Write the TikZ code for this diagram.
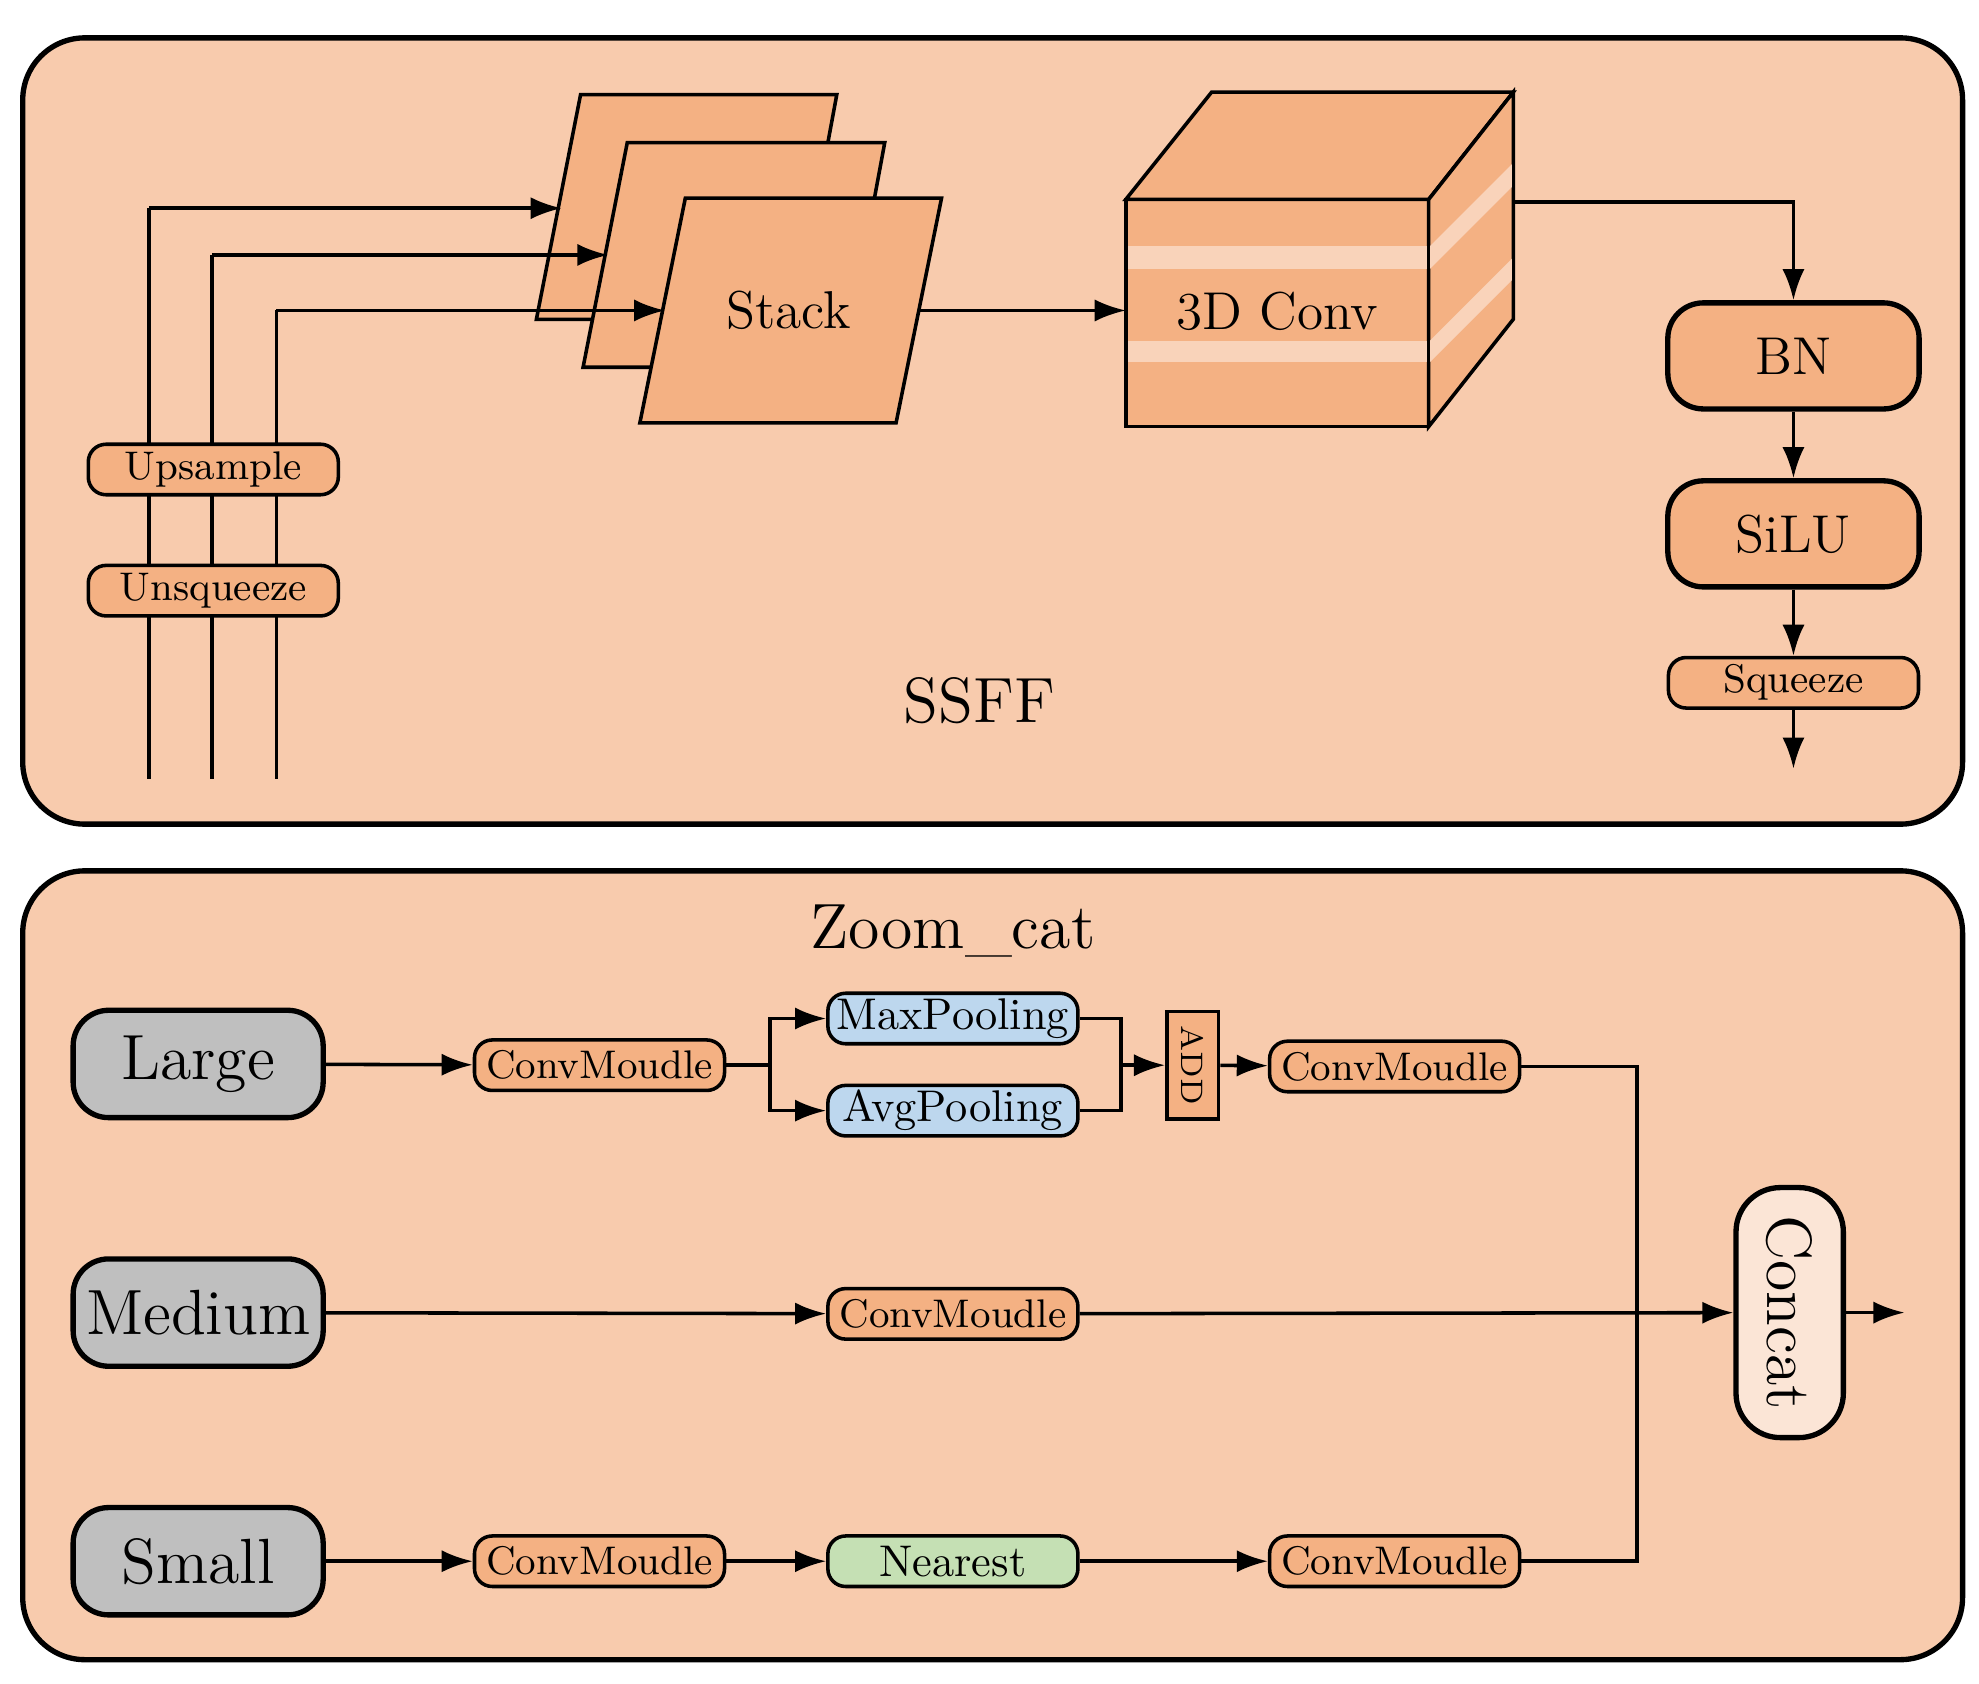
\documentclass[tikz,border=0pt]{standalone}
\usetikzlibrary{arrows.meta,backgrounds}
\usepackage{xcolor}
\definecolor{panel}{HTML}{F8CBAD}
\definecolor{block}{HTML}{F4B183}
\definecolor{stripe}{HTML}{F9D3BA}
\definecolor{pool}{HTML}{BDD7EE}
\definecolor{near}{HTML}{C5E0B4}
\definecolor{grayin}{HTML}{BFBFBF}
\definecolor{cat}{HTML}{FBE5D6}
\tikzset{
  arr/.style={-{Latex[length=7pt,width=5pt]},thick},
  ln/.style={thick},
  small/.style={draw,thick,fill=block,rounded corners=4pt,minimum width=1.98cm,minimum height=0.4cm,inner sep=0pt,font=\small},
  big/.style={draw,very thick,fill=block,rounded corners=8pt,minimum width=1.99cm,minimum height=0.84cm,inner sep=0pt,font=\large},
  inp/.style={draw,very thick,fill=grayin,rounded corners=8pt,minimum width=1.98cm,minimum height=0.85cm,inner sep=0pt,font=\Large},
}
\begin{document}
\begin{tikzpicture}[x=0.01cm,y=-0.01cm]
	\useasboundingbox (0,0) rectangle (1568,1334);
	%panels
	\draw[very thick,fill=panel,rounded corners=14pt] (18,30) rectangle (1555,653);
	\draw[very thick,fill=panel,rounded corners=14pt] (18,690) rectangle (1555,1315);
	%SSFF inputs
	\coordinate (i1) at (118,617);
	\coordinate (i2) at (168,617);
	\coordinate (i3) at (219,617);
	\draw[ln] (i1) -- (118,165);
	\draw[ln] (i2) -- (168,202);
	\draw[ln] (i3) -- (219,246);
	\node[small] (up) at (169,372) {Upsample};
	\node[small] (unsq) at (169,468) {Unsqueeze};
	%stack
	\draw[thick,fill=block] (460,75) -- (663,75) -- (630,253) -- (425,253) -- cycle;
	\draw[thick,fill=block] (497,113) -- (701,113) -- (668,291) -- (462,291) -- cycle;
	\draw[thick,fill=block] (543,157) -- (746,157) -- (710,335) -- (507,335) -- cycle;
	\node[font=\large] (stack) at (625,246) {Stack};
	\coordinate (s1) at (445,165);
	\coordinate (s2) at (482,202);
	\coordinate (s3) at (527,246);
	\draw[arr] (118,165) -- (s1);
	\draw[arr] (168,202) -- (s2);
	\draw[arr] (219,246) -- (s3);
	%cube
	\draw[thick,fill=block] (892,158) rectangle (1132,338);
	\draw[thick,fill=block] (892,158) -- (960,73) -- (1199,73) -- (1132,158) -- cycle;
	\draw[thick,fill=block] (1132,158) -- (1199,73) -- (1199,253) -- (1132,338) -- cycle;
	\fill[stripe] (893,195) rectangle (1131,213);
	\fill[stripe] (893,270) rectangle (1131,287);
	\fill[stripe] (1133,195) -- (1198,130) -- (1198,148) -- (1133,213) -- cycle;
	\fill[stripe] (1133,270) -- (1198,205) -- (1198,222) -- (1133,287) -- cycle;
	\draw[thick] (892,158) -- (892,338) (1132,158) -- (1132,338) (1199,73) -- (1199,253);
	\node[font=\large] (conv) at (1012,247) {3D Conv};
	\coordinate (c1) at (892,246);
	\draw[arr] (728,246) -- (c1);
	%right column
	\node[big] (bn) at (1421,282) {BN};
	\node[big] (silu) at (1421,423) {SiLU};
	\node[small] (sq) at (1421,541) {Squeeze};
	\coordinate (out) at (1421,609);
	\draw[arr] (1199,160) -| (bn.north);
	\draw[arr] (bn) -- (silu);
	\draw[arr] (silu) -- (sq);
	\draw[arr] (sq) -- (out);
	\node[font=\Large] (ssff) at (776,555) {SSFF};
	%Zoom_cat
	\node[font=\Large] (zc) at (755,738) {Zoom\_cat};
	\node[inp] (large) at (157,843) {Large};
	\node[inp] (medium) at (157,1040) {Medium};
	\node[inp] (smallin) at (157,1237) {Small};
	\node[small] (cm1) at (475,844) {ConvMoudle};
	\node[small,fill=pool,font=\normalsize] (maxp) at (755,807) {MaxPooling};
	\node[small,fill=pool,font=\normalsize] (avgp) at (755,880) {AvgPooling};
	\node[draw,thick,fill=block,minimum width=0.41cm,minimum height=0.85cm,inner sep=0pt] (add) at (945,844) {\rotatebox{-90}{\scriptsize ADD}};
	\node[small] (cm2) at (1105,845) {ConvMoudle};
	\node[small] (cm3) at (755,1041) {ConvMoudle};
	\node[small] (cm4) at (475,1237) {ConvMoudle};
	\node[small,fill=near,font=\normalsize] (nn) at (755,1237) {Nearest};
	\node[small] (cm5) at (1105,1237) {ConvMoudle};
	\node[draw,very thick,fill=cat,rounded corners=10pt,minimum width=0.85cm,minimum height=1.98cm,inner sep=0pt] (concat) at (1418,1040) {\rotatebox{-90}{\Large Concat}};
	\coordinate (zout) at (1509,1040);
	%connectors
	\draw[arr] (large) -- (cm1);
	\draw[ln] (cm1.east) -- (610,844);
	\draw[arr] (610,844) |- (maxp.west);
	\draw[arr] (610,844) |- (avgp.west);
	\draw[ln] (maxp.east) -| (888,844);
	\draw[ln] (avgp.east) -| (888,844);
	\draw[arr] (888,844) -- (add.west);
	\draw[arr] (add) -- (cm2);
	\draw[arr] (medium) -- (cm3);
	\draw[arr] (cm3) -- (concat);
	\draw[arr] (smallin) -- (cm4);
	\draw[arr] (cm4) -- (nn);
	\draw[arr] (nn) -- (cm5);
	\draw[ln] (cm2.east) -| (1297,1040);
	\draw[ln] (cm5.east) -| (1297,1040);
	\draw[arr] (concat) -- (zout);
\end{tikzpicture}
\end{document}
